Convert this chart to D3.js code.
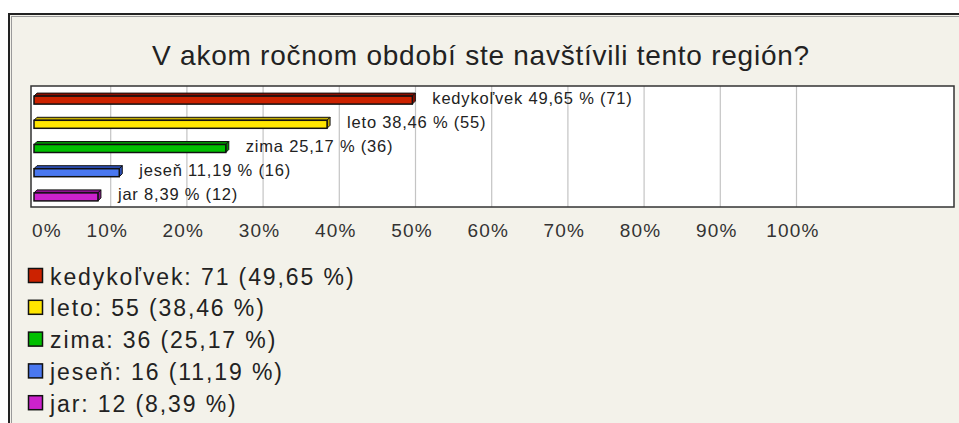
<!DOCTYPE html>
<html lang="sk">
<head>
<meta charset="UTF-8" />
<title>V akom ročnom období ste navštívili tento región?</title>
<script src="https://d3js.org/d3.v7.min.js"></script>
<style>
  body { margin: 0; background: #fff; }
  svg { display: block; font-family: "Liberation Sans", Arial, sans-serif; }
</style>
</head>
<body>
<script>
  // data
  const categories = ["kedykoľvek", "leto", "zima", "jeseň", "jar"];
  const counts = [71, 55, 36, 16, 12];
  const percents = [49.65, 38.46, 25.17, 11.19, 8.39];
  const frontColors = ["#cc2200", "#ffe600", "#00c000", "#4a78f0", "#cc22cc"];
  const topColors = ["#8a0e00", "#c8b000", "#008a00", "#2d50b8", "#8e1090"];
  const tickValues = [0, 10, 20, 30, 40, 50, 60, 70, 80, 90, 100];
  const title = "V akom ročnom období ste navštívili tento región?";

  const W = 959, H = 423;
  const fmt = v => v.toFixed(2).replace(".", ",");

  const svg = d3.select("body").append("svg").attr("width", W).attr("height", H);

  // panel with double frame
  svg.append("rect").attr("x", 9).attr("y", 14).attr("width", W).attr("height", H)
    .attr("fill", "#f3f2ea").attr("stroke", "#222").attr("stroke-width", 2);
  svg.append("rect").attr("x", 11.5).attr("y", 16.5).attr("width", W).attr("height", H)
    .attr("fill", "none").attr("stroke", "#9a9a9a").attr("stroke-width", 1);

  svg.append("text").attr("x", 481).attr("y", 65).attr("text-anchor", "middle")
    .attr("font-size", 28).attr("letter-spacing", 0.75).attr("fill", "#222")
    .text(title);

  const plot = { left: 31, right: 954, top: 86, bottom: 207 };
  const x = d3.scaleLinear().domain([0, 100]).range([34, 796]);
  const y = d3.scaleBand().domain(categories).range([plot.top, plot.bottom]);

  svg.append("rect").attr("x", plot.left).attr("y", plot.top)
    .attr("width", plot.right - plot.left).attr("height", plot.bottom - plot.top)
    .attr("fill", "#fff");

  svg.append("g").selectAll("line").data(tickValues.slice(1)).join("line")
    .attr("x1", d => x(d) + 0.5).attr("x2", d => x(d) + 0.5)
    .attr("y1", plot.top).attr("y2", plot.bottom)
    .attr("stroke", "#c4c4c4").attr("stroke-width", 1.2);

  svg.append("rect").attr("x", plot.left).attr("y", plot.top)
    .attr("width", plot.right - plot.left).attr("height", plot.bottom - plot.top)
    .attr("fill", "none").attr("stroke", "#333").attr("stroke-width", 1.5);

  // 3d bars: top face, side face, front face
  const depth = 3, barH = 8;
  const rows = categories.map((c, i) => ({ c, i, cnt: counts[i], pct: percents[i] }));
  const bars = svg.append("g").selectAll("g").data(rows).join("g");
  const cy = d => y(d.c) + y.bandwidth() / 2;

  bars.append("path")
    .attr("d", d => {
      const x0 = x(0), x1 = x(d.pct), t = cy(d) - 2;
      return `M${x0},${t}L${x0 + depth},${t - depth}L${x1 + depth},${t - depth}L${x1},${t}Z`;
    })
    .attr("fill", d => topColors[d.i]).attr("stroke", "#111").attr("stroke-width", 1);
  bars.append("path")
    .attr("d", d => {
      const x1 = x(d.pct), t = cy(d) - 2;
      return `M${x1},${t}L${x1 + depth},${t - depth}L${x1 + depth},${t - depth + barH}L${x1},${t + barH}Z`;
    })
    .attr("fill", d => topColors[d.i]).attr("stroke", "#111").attr("stroke-width", 1);
  bars.append("rect")
    .attr("x", x(0)).attr("y", d => cy(d) - 2)
    .attr("width", d => x(d.pct) - x(0)).attr("height", barH)
    .attr("fill", d => frontColors[d.i]).attr("stroke", "#111").attr("stroke-width", 1.5);

  bars.append("text")
    .attr("x", d => x(d.pct) + 20).attr("y", d => cy(d) + 5.5)
    .attr("font-size", 16.5).attr("letter-spacing", 0.8).attr("fill", "#222")
    .text(d => `${d.c} ${fmt(d.pct)} % (${d.cnt})`);

  // axis labels under the plot
  svg.append("g").selectAll("text").data(tickValues).join("text")
    .attr("x", d => d === 0 ? 32 : x(d) - 3)
    .attr("y", 237)
    .attr("text-anchor", d => d === 0 ? "start" : "middle")
    .attr("font-size", 19).attr("letter-spacing", 1.2).attr("fill", "#333")
    .text(d => d + "%");

  // legend
  const legend = svg.append("g").selectAll("g").data(rows).join("g")
    .attr("transform", d => `translate(0,${276 + d.i * 31.8})`);
  legend.append("rect").attr("x", 28.5).attr("y", -7.5).attr("width", 14).attr("height", 14)
    .attr("fill", d => frontColors[d.i]).attr("stroke", "#111").attr("stroke-width", 1.5);
  legend.append("text").attr("x", 50).attr("y", 8.5)
    .attr("font-size", 23).attr("letter-spacing", 1.9).attr("fill", "#222")
    .text(d => `${d.c}: ${d.cnt} (${fmt(d.pct)} %)`);
</script>
</body>
</html>
